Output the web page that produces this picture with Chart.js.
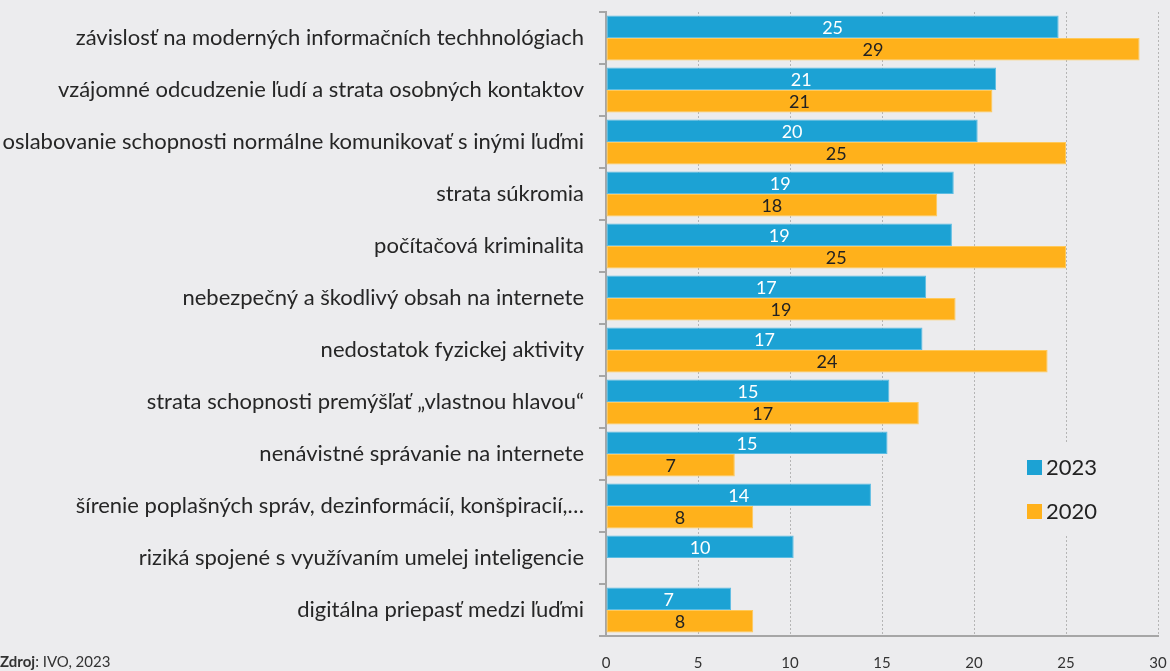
<!DOCTYPE html>
<html>
<head>
<meta charset="utf-8">
<script src="https://cdn.jsdelivr.net/npm/chart.js@4.4.0/dist/chart.umd.min.js"></script>
<style>
  html, body { margin: 0; padding: 0; background: #ececee; }
  #wrap { position: relative; width: 1170px; height: 671px; overflow: hidden; }
  #source { position: absolute; left: 0; top: 652px; font: 15px Lato, sans-serif; color: #333; }
</style>
</head>
<body>
<div id="wrap">
  <canvas id="c" width="1170" height="671"></canvas>
  <div id="source"><b>Zdroj</b>: IVO, 2023</div>
</div>
<script>
const categories = [
  'závislosť na moderných informačních techhnológiach',
  'vzájomné odcudzenie ľudí a strata osobných kontaktov',
  'oslabovanie schopnosti normálne komunikovať s inými ľuďmi',
  'strata súkromia',
  'počítačová kriminalita',
  'nebezpečný a škodlivý obsah na internete',
  'nedostatok fyzickej aktivity',
  'strata schopnosti premýšľať „vlastnou hlavou“',
  'nenávistné správanie na internete',
  'šírenie poplašných správ, dezinformácií, konšpiracií,…',
  'riziká spojené s využívaním umelej inteligencie',
  'digitálna priepasť medzi ľuďmi'
];
const seriesNames = ['2023', '2020'];
const values2023 = [24.6, 21.2, 20.2, 18.9, 18.8, 17.4, 17.2, 15.4, 15.3, 14.4, 10.2, 6.8];
const values2020 = [29.0, 21.0, 25.0, 18.0, 25.0, 19.0, 24.0, 17.0, 7.0, 8.0, null, 8.0];
const xTicks = [0, 5, 10, 15, 20, 25, 30];

const FONT = 'Lato, sans-serif';
const BLUE = '#1ca2d4';
const ORANGE = '#ffb11b';

// value labels centred inside each bar
const barValueLabels = {
  id: 'barValueLabels',
  afterDatasetsDraw(chart) {
    const ctx = chart.ctx;
    ctx.save();
    ctx.font = '18px ' + FONT;
    ctx.textAlign = 'center';
    ctx.textBaseline = 'middle';
    chart.data.datasets.forEach((ds, i) => {
      const meta = chart.getDatasetMeta(i);
      meta.data.forEach((bar, j) => {
        const v = ds.data[j];
        if (v === null || v === undefined) return;
        ctx.fillStyle = i === 0 ? '#ffffff' : '#222222';
        ctx.fillText(String(Math.round(v)), (bar.x + bar.base) / 2, bar.y + 1);
      });
    });
    ctx.restore();
  }
};

// legend box inside the plot, lower right
const insideLegend = {
  id: 'insideLegend',
  afterDatasetsDraw(chart) {
    const ctx = chart.ctx;
    const area = chart.chartArea;
    const left = area.right - 143;
    const top = area.bottom - 193;
    ctx.save();
    ctx.fillStyle = '#ececee';
    ctx.fillRect(left, top, 105, 92);
    ctx.font = '22px ' + FONT;
    ctx.textBaseline = 'middle';
    ctx.textAlign = 'left';
    chart.data.datasets.forEach((ds, i) => {
      const cy = top + 24 + i * 44;
      ctx.fillStyle = ds.backgroundColor;
      ctx.fillRect(left + 12, cy - 7, 15, 15);
      ctx.fillStyle = '#222222';
      ctx.fillText(ds.label, left + 31, cy + 1);
    });
    ctx.restore();
  }
};

new Chart(document.getElementById('c'), {
  type: 'bar',
  data: {
    labels: categories,
    datasets: [
      { label: seriesNames[0], data: values2023, backgroundColor: BLUE, borderColor: '#5cbde3', borderWidth: 1, borderSkipped: false },
      { label: seriesNames[1], data: values2020, backgroundColor: ORANGE, borderColor: '#ffc95a', borderWidth: 1, borderSkipped: false }
    ]
  },
  options: {
    indexAxis: 'y',
    responsive: false,
    animation: false,
    devicePixelRatio: 1,
    layout: { padding: { top: 12, right: 12, bottom: 0, left: 0 } },
    datasets: { bar: { categoryPercentage: 0.865, barPercentage: 1.0 } },
    plugins: {
      legend: { display: false },
      tooltip: { enabled: false }
    },
    scales: {
      x: {
        min: 0,
        max: 30,
        afterBuildTicks(scale) { scale.ticks = xTicks.map(v => ({ value: v })); },
        afterFit(scale) { scale.height = 35; scale.paddingLeft = 0; scale.paddingRight = 0; },
        grid: { color: '#b5b5b5', lineWidth: 1, drawTicks: false },
        border: { color: '#a6a6a6', width: 2, dash: [2, 2] },
        ticks: { font: { family: FONT, size: 15 }, color: '#333333', padding: 18 }
      },
      y: {
        afterFit(scale) { scale.width = 606; scale.paddingTop = 0; scale.paddingBottom = 0; },
        grid: { offset: true, drawOnChartArea: false, tickLength: 7, color: '#a6a6a6', lineWidth: 2 },
        border: { color: '#a6a6a6', width: 2 },
        ticks: { font: { family: FONT, size: 22 }, color: '#262626', padding: 15 }
      }
    }
  },
  plugins: [barValueLabels, insideLegend]
});
</script>
</body>
</html>
